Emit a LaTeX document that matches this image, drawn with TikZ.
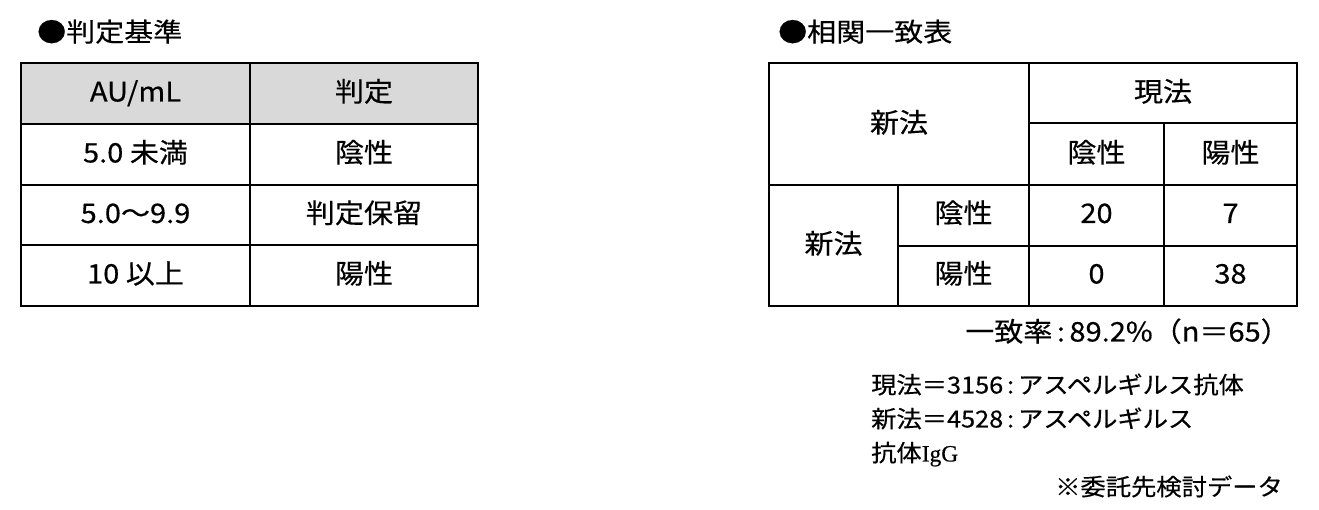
\documentclass[tikz,border=0pt]{standalone}
\usepackage{fontspec}
\newfontfamily\jp[FakeStretch=1.08,FakeBold=0.4]{Noto Sans CJK JP}
\newfontfamily\jpw[FakeStretch=1.12,FakeBold=0.4]{Noto Sans CJK JP}
\newfontfamily\serifig[FakeBold=0.4]{Liberation Serif}
\begin{document}
\begin{tikzpicture}[x=1bp,y=-1bp,
  grid/.style={line width=2bp,black},
  cell/.style={inner sep=0pt,anchor=center,text height=1.0em,text depth=0em,yshift=-2.5bp,font=\jp\fontsize{27}{30}\selectfont},
  ttl/.style={inner sep=0pt,anchor=west,text height=1.0em,text depth=0em,yshift=-3.5bp,font=\jpw\fontsize{26}{30}\selectfont},
  note/.style={inner sep=0pt,text height=1.0em,text depth=0em,yshift=-2.5bp,font=\jp\fontsize{23.5}{26}\selectfont}]
\useasboundingbox (0,0) rectangle (1319,510);
\fill[white] (0,0) rectangle (1319,510);

% ---------- titles ----------
\node[ttl] (t1) at (37,33) {●判定基準};
\node[ttl] (t2) at (778,33) {●相関一致表};

% ---------- left table ----------
\fill[black!15] (21,63) rectangle (478,124);
\draw[grid] (21,63) rectangle (478,306);
\draw[grid] (250,63) -- (250,306);
\draw[grid] (21,124) -- (478,124);
\draw[grid] (21,185) -- (478,185);
\draw[grid] (21,245) -- (478,245);

\node[cell] (h1) at (135.5,94) {AU/mL};
\node[cell] (h2) at (364,94) {判定};
\node[cell] (a1) at (135.5,155) {5.0 未満};
\node[cell] (b1) at (364,155) {陰性};
\node[cell] (a2) at (135.5,215.5) {5.0～9.9};
\node[cell] (b2) at (364,215.5) {判定保留};
\node[cell] (a3) at (135.5,276) {10 以上};
\node[cell] (b3) at (364,276) {陽性};

% ---------- right table ----------
\draw[grid] (769,63) rectangle (1297,306);
\draw[grid] (1029,63) -- (1029,306);
\draw[grid] (1029,123) -- (1297,123);
\draw[grid] (1164,123) -- (1164,306);
\draw[grid] (769,185) -- (1297,185);
\draw[grid] (898,185) -- (898,306);
\draw[grid] (898,246) -- (1297,246);

\node[cell] (new1) at (899,125) {新法};
\node[cell] (cur) at (1163,94) {現法};
\node[cell] (cneg) at (1096.5,155) {陰性};
\node[cell] (cpos) at (1230.5,155) {陽性};
\node[cell] (new2) at (833.5,246) {新法};
\node[cell] (nneg) at (963.5,215.5) {陰性};
\node[cell] (npos) at (963.5,276) {陽性};
\node[cell] (v1) at (1096.5,215.5) {20};
\node[cell] (v2) at (1230.5,215.5) {7};
\node[cell] (v3) at (1096.5,276) {0};
\node[cell] (v4) at (1230.5,276) {38};

% ---------- notes ----------
\node[cell,anchor=east] (rate) at (1290,334) {一致率\,:\,89.2\%（n＝65）};
\node[note,anchor=west] (n1) at (871,386) {現法＝3156\,:\,アスペルギルス抗体};
\node[note,anchor=west] (n2) at (871,420) {新法＝4528\,:\,アスペルギルス};
\node[note,anchor=west] (n3) at (871,454) {抗体{\serifig IgG}};
\node[note,anchor=east] (n4) at (1283,488) {※委託先検討データ};
\end{tikzpicture}
\end{document}
